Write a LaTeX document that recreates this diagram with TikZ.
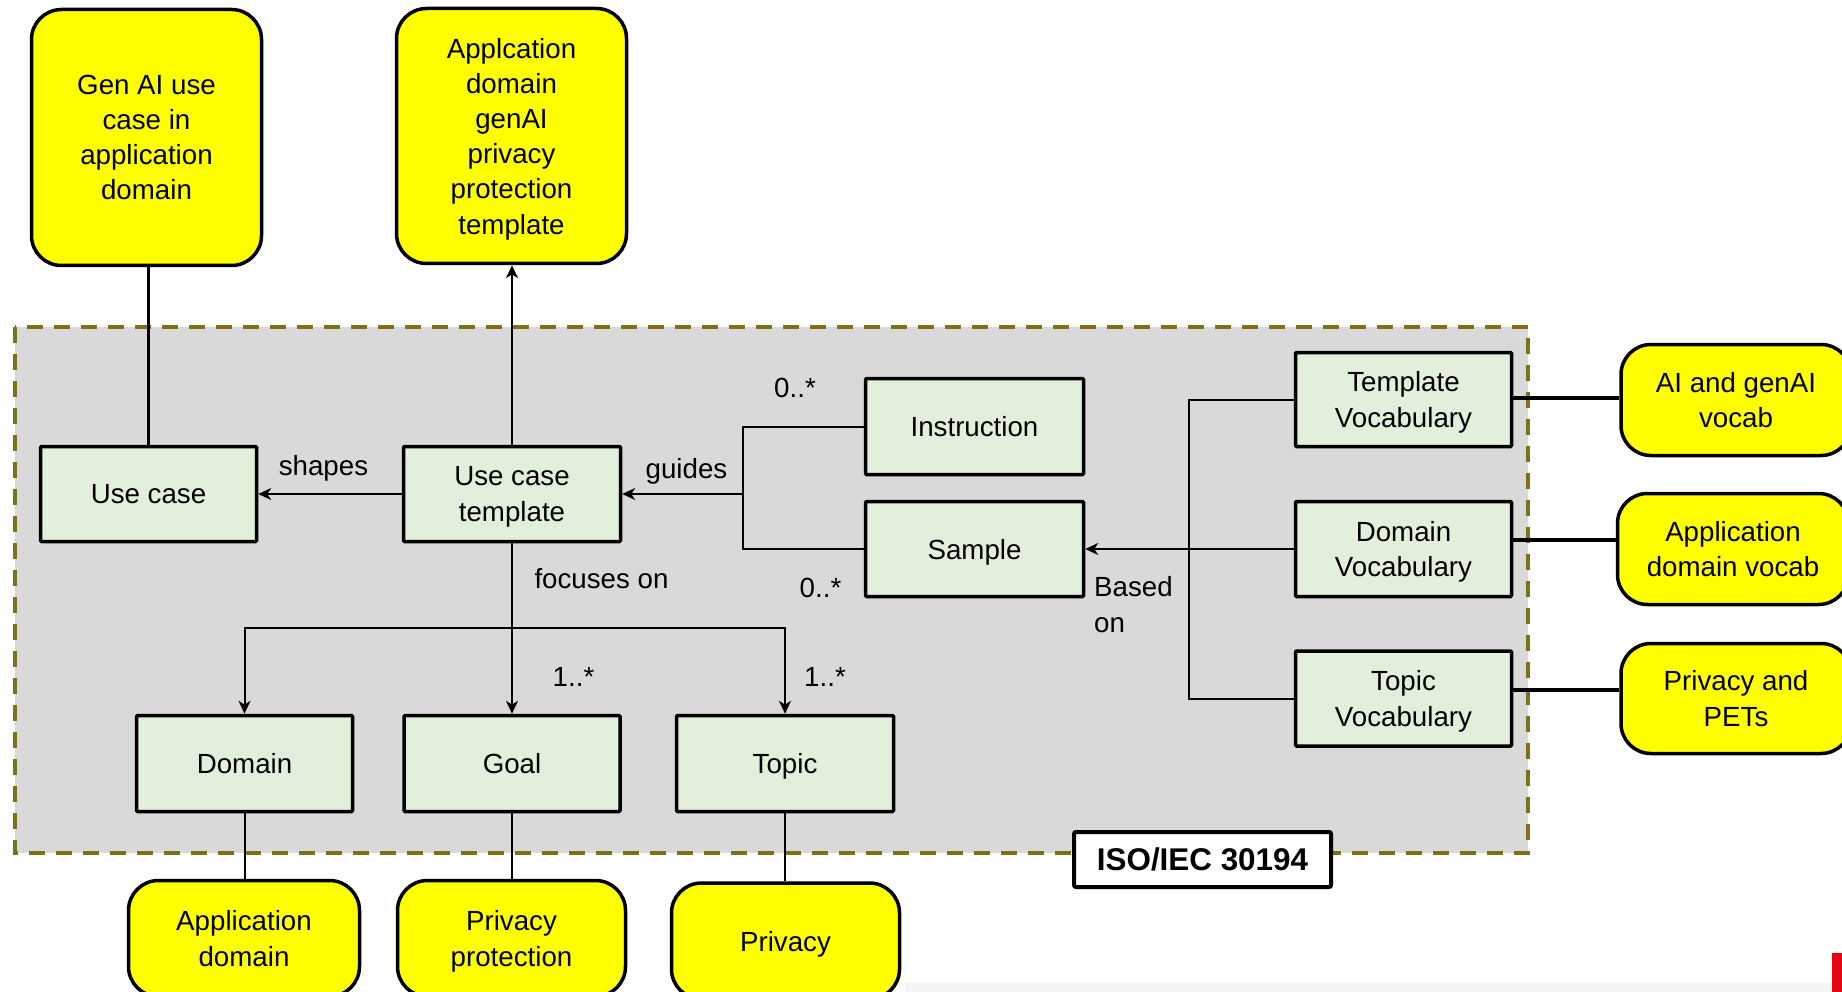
\documentclass[tikz,border=0pt]{standalone}
\usepackage{fontspec}
\setmainfont{Liberation Sans}
\usetikzlibrary{arrows.meta,calc}
\definecolor{ylw}{HTML}{FFFF00}
\definecolor{grn}{HTML}{E2EFDA}
\definecolor{gry}{HTML}{D9D9D9}
\definecolor{olv}{HTML}{7A7118}
\definecolor{redmark}{HTML}{E30613}
\definecolor{strip}{HTML}{F4F4F4}
\tikzset{
  txt/.style={font=\fontsize{27.7}{35.2}\selectfont},
  gbox/.style={txt, draw=black, fill=grn, line width=3.5pt, align=center, inner sep=0pt, rounded corners=1pt, text depth=0pt},
  ybox/.style={txt, draw=black, fill=ylw, line width=3.5pt, align=center, inner sep=0pt, rounded corners=30pt, text depth=0pt},
  lab/.style={txt, inner sep=0pt},
  conn/.style={draw=black, line width=2pt},
  thick conn/.style={draw=black, line width=3pt},
  arr/.style={conn, -{Stealth[length=13pt,width=12pt,inset=4pt]}},
}
\begin{document}
\begin{tikzpicture}[x=1pt,y=-1pt]
\useasboundingbox (0,0) rectangle (1842,992);
\clip (0,0) rectangle (1842,992);
\fill[white] (0,0) rectangle (1842,992);
\fill[strip] (905,983) rectangle (1842,992);
\fill[redmark] (1832,953) rectangle (1842,992);
% container
\draw[fill=gry, draw=olv, line width=4pt, dash pattern=on 16pt off 11pt] (15,327) rectangle (1528,853);
% yellow boxes
\node[ybox, minimum width=230pt, minimum height=256pt] (gen) at (146.5,137.5) {Gen AI use\\case in\\application\\domain};
\node[ybox, minimum width=230pt, minimum height=255pt] (app) at (511.5,136) {Applcation\\domain\\genAI\\privacy\\protection\\template};
\node[ybox, minimum width=230pt, minimum height=111pt] (aiv) at (1736,400) {AI and genAI\\vocab};
\node[ybox, minimum width=231pt, minimum height=111pt] (adv) at (1733,549) {Application\\domain vocab};
\node[ybox, minimum width=230pt, minimum height=110pt] (ppets) at (1736,698.5) {Privacy and\\PETs};
\node[ybox, minimum width=231pt, minimum height=116pt] (appd) at (244,938.5) {Application\\domain};
\node[ybox, minimum width=228pt, minimum height=116pt] (pp) at (511.5,938.5) {Privacy\\protection};
\node[ybox, minimum width=228pt, minimum height=116pt] (priv) at (785.5,941) {Privacy};
% green boxes
\node[gbox, minimum width=216pt, minimum height=95pt] (uc) at (148.5,494) {Use case};
\node[gbox, minimum width=217pt, minimum height=95pt] (uct) at (512,494) {Use case\\template};
\node[gbox, minimum width=218pt, minimum height=96pt] (ins) at (974.5,426.5) {Instruction};
\node[gbox, minimum width=218pt, minimum height=95pt] (smp) at (974.5,549) {Sample};
\node[gbox, minimum width=216pt, minimum height=94pt] (tv) at (1403.5,399.5) {Template\\Vocabulary};
\node[gbox, minimum width=216pt, minimum height=95pt] (dv) at (1403.5,549) {Domain\\Vocabulary};
\node[gbox, minimum width=216pt, minimum height=95pt] (topv) at (1403.5,698.5) {Topic\\Vocabulary};
\node[gbox, minimum width=216pt, minimum height=96pt] (dom) at (244.5,763.5) {Domain};
\node[gbox, minimum width=216pt, minimum height=96pt] (goal) at (512,763.5) {Goal};
\node[gbox, minimum width=217pt, minimum height=96pt] (top) at (785,763.5) {Topic};
% ISO label
\node[draw=black, fill=white, line width=4pt, rounded corners=2pt, minimum width=257pt, minimum height=55pt, inner sep=0pt, font=\fontsize{31.4}{36}\selectfont\bfseries] (iso) at (1202.5,859.5) {ISO/IEC 30194};
% junction coordinates
\coordinate (jg) at (743,494);
\coordinate (jv) at (1189,549);
\coordinate (jf) at (512,628);
% connectors
\draw[thick conn] (uc.north) -- (uc.north |- gen.south);
\draw[arr] (uct.north) -- (uct.north |- app.south);
\draw[arr] (uct.west) -- (uc.east);
\draw[conn] (ins.west) -| (jg);
\draw[conn] (smp.west) -| (jg);
\draw[arr] (jg) -- (uct.east);
\draw[conn] (tv.west) -| (jv);
\draw[conn] (topv.west) -| (jv);
\draw[arr] (dv.west) -- (smp.east);
\draw[arr] (uct.south) -- (goal.north);
\draw[arr] (jf) -| (dom.north);
\draw[arr] (jf) -| (top.north);
\draw[conn] (dom.south) -- (dom.south |- appd.north);
\draw[conn] (goal.south) -- (goal.south |- pp.north);
\draw[conn] (top.south) -- (top.south |- priv.north);
\draw[line width=3.5pt] ([yshift=1.5pt]tv.east) -- ([yshift=1.5pt]tv.east -| aiv.west);
\draw[line width=3.5pt] ([yshift=9pt]dv.east) -- ([yshift=9pt]dv.east -| adv.west);
\draw[line width=3.5pt] ([yshift=8.5pt]topv.east) -- ([yshift=8.5pt]topv.east -| ppets.west);
% labels
\node[lab] (lshapes) at (323.5,468) {shapes};
\node[lab] (lguides) at (686.5,471) {guides};
\node[lab] (lm1) at (795,388) {0..*};
\node[lab] (lm2) at (820.5,588) {0..*};
\node[lab, align=left, anchor=west] (lbased) at (1094,604.5) {Based\\on};
\node[lab] (lfoc) at (601.5,579) {focuses on};
\node[lab] (lm3) at (573.5,677) {1..*};
\node[lab] (lm4) at (825,677) {1..*};
\end{tikzpicture}
\end{document}
